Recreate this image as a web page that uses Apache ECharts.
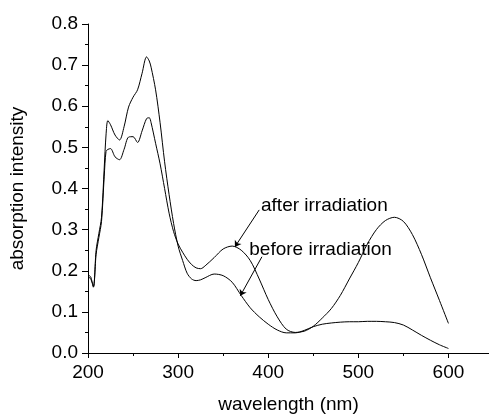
<!DOCTYPE html>
<html><head><meta charset="utf-8">
<script src="https://cdn.jsdelivr.net/npm/echarts@6/dist/echarts.min.js"></script>
<style>html,body{margin:0;padding:0;background:#fff}#c{width:489px;height:414px}</style>
</head><body><div id="c"></div>
<script>
var wavelength = [200,203,206,209,212,215,218,220,222,225,230,235,240,245,250,255,260,265,268,270,275,280,285,290,295,300,305,310,315,320,325,330,340,350,360,370,380,390,400,410,420,430,440,450,460,470,480,490,500,510,520,530,540,550,560,570,580,590,600];
var beforeIrradiation = [0.186,0.18,0.162,0.25,0.29,0.33,0.45,0.53,0.565,0.555,0.53,0.518,0.55,0.598,0.622,0.64,0.68,0.72,0.71,0.695,0.64,0.56,0.465,0.385,0.315,0.26,0.225,0.194,0.18,0.176,0.178,0.183,0.192,0.188,0.172,0.14,0.11,0.088,0.07,0.056,0.049,0.049,0.055,0.064,0.07,0.073,0.075,0.076,0.076,0.077,0.077,0.076,0.074,0.068,0.056,0.043,0.031,0.02,0.011];
var afterIrradiation = [0.19,0.185,0.16,0.24,0.28,0.32,0.43,0.49,0.495,0.497,0.477,0.47,0.495,0.525,0.526,0.512,0.54,0.57,0.572,0.56,0.51,0.46,0.40,0.34,0.295,0.265,0.245,0.228,0.215,0.207,0.205,0.212,0.232,0.253,0.26,0.25,0.225,0.18,0.13,0.088,0.058,0.05,0.053,0.065,0.085,0.108,0.14,0.18,0.22,0.265,0.3,0.322,0.33,0.32,0.288,0.24,0.183,0.128,0.072];
var xTicks = [200,300,400,500,600];
var xMinorTicks = [250,350,450,550];
var afterLabel = 'after irradiation';
var beforeLabel = 'before irradiation';

var font = '"Liberation Sans", Arial, sans-serif';
var fs = 19;
function pairs(v){ return wavelength.map(function(w,i){return [w, v[i]];}); }
var chart = echarts.init(document.getElementById('c'), null, {renderer:'canvas'});
var option = {
  animation:false,
  backgroundColor:'#fff',
  grid:{left:88,right:0,top:24,bottom:61,containLabel:false,outerBoundsMode:'none'},
  xAxis:[{
    type:'value',min:200,max:645,interval:100,
    name:'wavelength (nm)',nameLocation:'middle',nameGap:42,
    nameTextStyle:{fontFamily:font,fontSize:fs,color:'#000'},
    axisLine:{show:true,onZero:false,lineStyle:{color:'#000',width:1}},
    axisTick:{show:true,length:5,customValues:xTicks,lineStyle:{color:'#000'}},
    axisLabel:{show:true,margin:10,customValues:xTicks,fontFamily:font,fontSize:fs,color:'#000'},
    splitLine:{show:false}
  },{
    type:'value',min:200,max:645,position:'bottom',
    axisLine:{show:false},
    axisTick:{show:true,length:3,customValues:xMinorTicks,lineStyle:{color:'#000'}},
    axisLabel:{show:false},
    splitLine:{show:false}
  }],
  yAxis:{
    type:'value',min:0,max:0.8,interval:0.1,
    name:'absorption intensity',nameLocation:'middle',nameGap:61,
    nameTextStyle:{fontFamily:font,fontSize:fs,color:'#000'},
    axisLine:{show:true,lineStyle:{color:'#000',width:1}},
    axisTick:{show:true,length:6,lineStyle:{color:'#000'}},
    minorTick:{show:true,splitNumber:2,length:3,lineStyle:{color:'#000'}},
    axisLabel:{margin:10,fontFamily:font,fontSize:fs,color:'#000',formatter:function(v){return v.toFixed(1);}},
    splitLine:{show:false}
  },
  series:[{
    name:beforeLabel,type:'line',data:pairs(beforeIrradiation),showSymbol:false,smooth:0.3,
    lineStyle:{color:'#000',width:1},
    markLine:{silent:true,symbol:['none','arrow'],symbolSize:6,label:{show:false},
      lineStyle:{color:'#000',width:1,type:'solid'},
      data:[[{coord:[393,0.234]},{coord:[369,0.139]}]]}
  },{
    name:afterLabel,type:'line',data:pairs(afterIrradiation),showSymbol:false,smooth:0.3,
    lineStyle:{color:'#000',width:1},
    markLine:{silent:true,symbol:['none','arrow'],symbolSize:6,label:{show:false},
      lineStyle:{color:'#000',width:1,type:'solid'},
      data:[[{coord:[390,0.348]},{coord:[363,0.258]}]]}
  }]
};
chart.setOption(option);
var pA = chart.convertToPixel({xAxisIndex:0,yAxisIndex:0},[392,0.357]);
var pB = chart.convertToPixel({xAxisIndex:0,yAxisIndex:0},[379,0.25]);
chart.setOption({graphic:[
  {type:'text',x:pA[0],y:pA[1],style:{text:afterLabel,font:fs+'px '+font,fill:'#000',verticalAlign:'middle',align:'left'}},
  {type:'text',x:pB[0],y:pB[1],style:{text:beforeLabel,font:fs+'px '+font,fill:'#000',verticalAlign:'middle',align:'left'}}
]});
</script></body></html>
